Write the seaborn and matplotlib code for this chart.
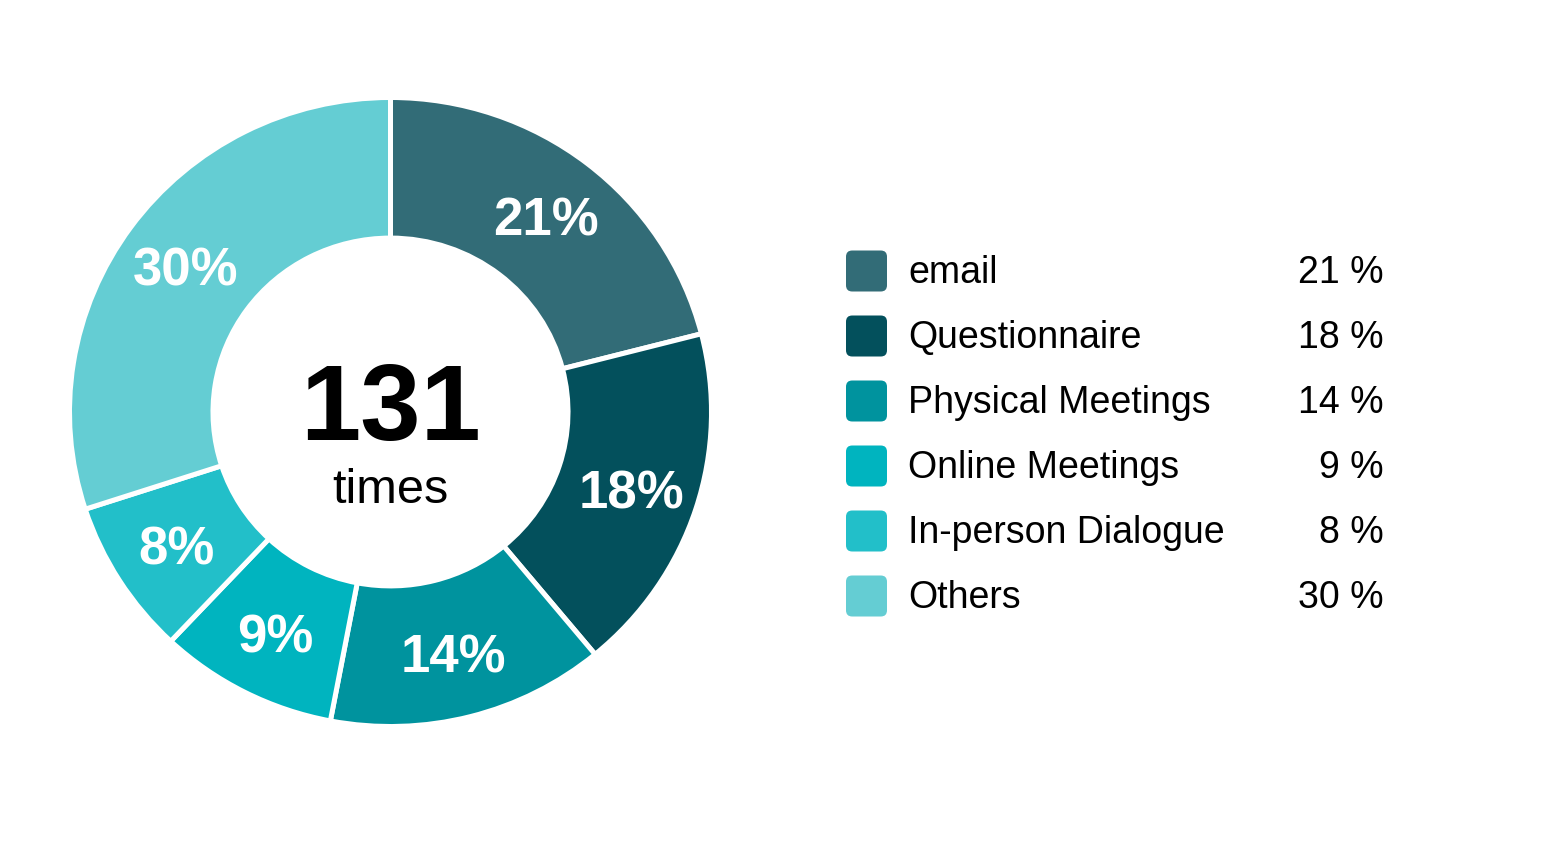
import matplotlib
matplotlib.use("Agg")
import matplotlib.pyplot as plt
import seaborn as sns
from matplotlib.patches import FancyBboxPatch

categories = ["email", "Questionnaire", "Physical Meetings", "Online Meetings",
              "In-person Dialogue", "Others"]
percents = [21, 18, 14, 9, 8, 30]
total_label = "131"
unit_label = "times"
colors = ["#326C77", "#03505C", "#00939E", "#00B4BF", "#22BFC9", "#64CDD3"]

sns.set_theme(style="white")
plt.rcParams['font.family'] = ['Liberation Sans', 'DejaVu Sans']
palette = sns.color_palette(colors)

W, H = 1552, 849
fig = plt.figure(figsize=(W / 100, H / 100), dpi=100)
fig.patch.set_facecolor("white")

# donut geometry (pixels): slightly wider than tall, as in the reference
cx, cy, Rx, Ry = 390.5, 412, 321, 314.5
ax = fig.add_axes([(cx - Rx) / W, (H - cy - Ry) / H, 2 * Rx / W, 2 * Ry / H])
wedges, texts, autotexts = ax.pie(
    percents, colors=palette, startangle=90, counterclock=False,
    radius=1.0, autopct=lambda p: f"{p:.0f}%", pctdistance=0.79,
    wedgeprops=dict(width=0.447, edgecolor="white", linewidth=3.6),
    textprops=dict(color="white", fontsize=38, fontweight="bold"))
for t in autotexts:
    t.set_va("center_baseline")
ax.set_xlim(-1, 1)
ax.set_ylim(-1, 1)
ax.set_aspect("auto")
ax.axis("off")

ax.text(0, 0.0, total_label, ha="center", va="center", fontsize=78,
        fontweight="bold", color="black")
ax.text(0, -0.25, unit_label, ha="center", va="center", fontsize=35, color="black")

# legend
row_y0, row_dy = 271, 65
sw_x, sw_size = 846, 41
for i, (cat, p) in enumerate(zip(categories, percents)):
    yc = row_y0 + i * row_dy
    patch = FancyBboxPatch((sw_x / W, (H - yc - sw_size / 2) / H),
                           sw_size / W, sw_size / H,
                           boxstyle="round,pad=0,rounding_size=0.004",
                           transform=fig.transFigure, facecolor=palette[i],
                           edgecolor="none", mutation_aspect=W / H)
    fig.patches.append(patch)
    fig.text(908 / W, (H - yc - 2) / H, cat, ha="left", va="center",
             fontsize=27, color="black")
    fig.text(1384 / W, (H - yc - 2) / H, f"{p} %", ha="right", va="center",
             fontsize=27, color="black")

fig.savefig("out.png", dpi=100, facecolor="white")
